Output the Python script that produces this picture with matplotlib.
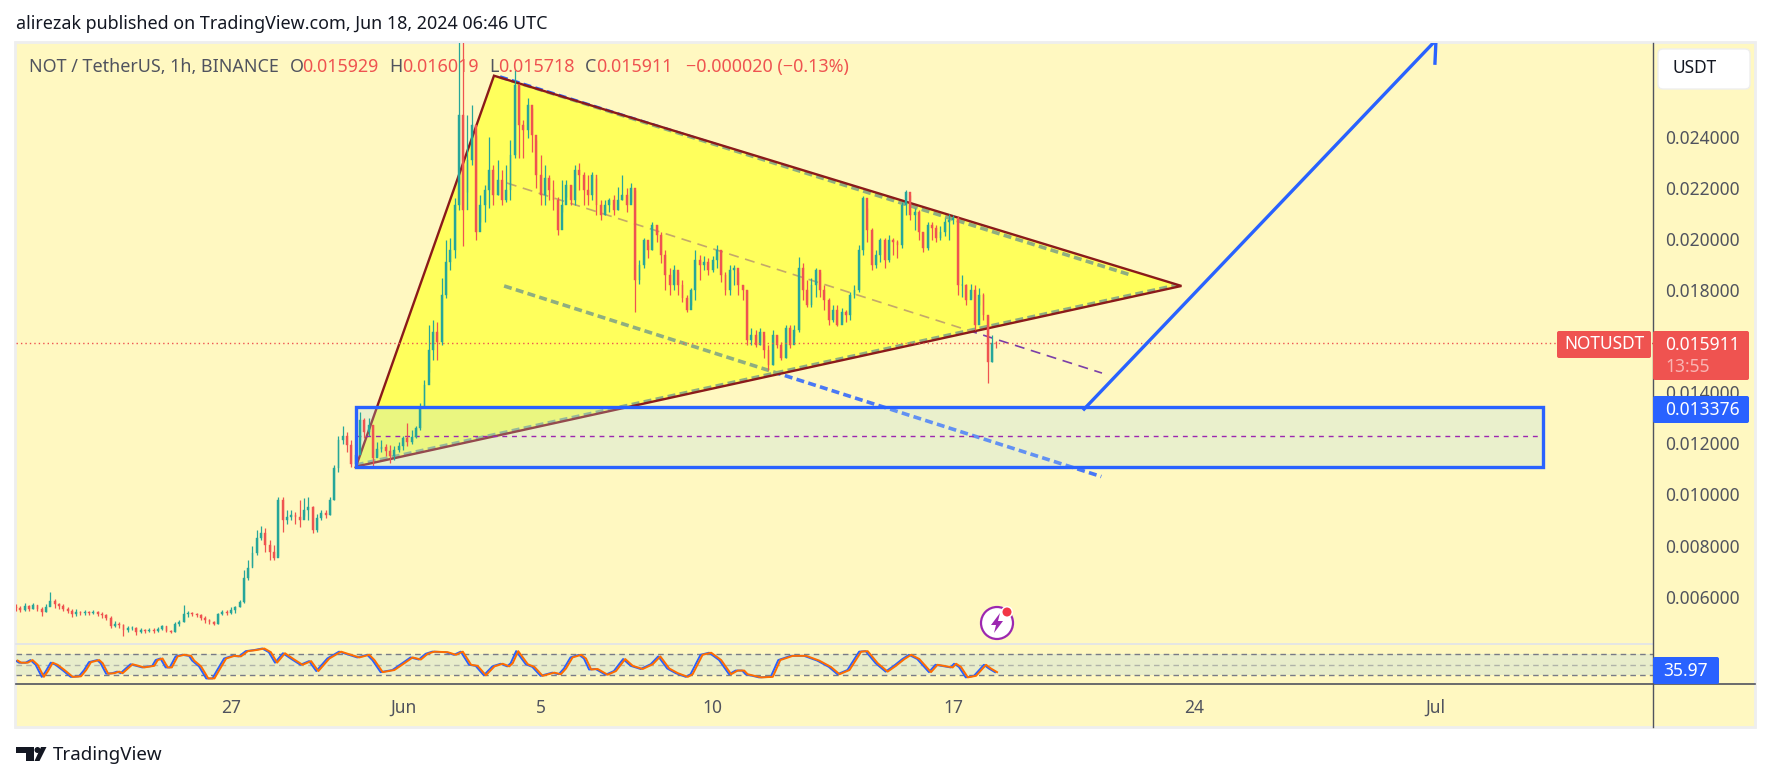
import numpy as np
import matplotlib
matplotlib.use("Agg")
import matplotlib.pyplot as plt
from matplotlib.patches import Rectangle, FancyBboxPatch, Circle, Polygon

plt.rcParams['font.family'] = ['Noto Sans', 'DejaVu Sans']

# 3h candles, prices in 1e-6 USDT, bars start May 20 18:00 (day 0 = May 27)
first_open = 5600
bar_close = [
    5550, 5480, 5630, 5520, 5670, 5520, 5400, 5590, 5830, 5710,
    5630, 5520, 5440, 5320, 5400, 5360, 5400, 5360, 5400, 5320,
    5280, 5160, 4850, 4930, 4890, 4690, 4770, 4770, 4610, 4690,
    4650, 4690, 4650, 4730, 4850, 4650, 4610, 4930, 5010, 5320,
    5360, 5320, 5280, 5160, 5080, 5010, 4930, 5320, 5400, 5360,
    5480, 5590, 5790, 6730, 7120, 7710, 8290, 8490, 8020, 7750,
    7510, 9780, 9000, 9120, 9190, 9120, 9000, 9390, 9510, 8610,
    9080, 9270, 9190, 9780, 11030, 12130, 12290, 11930, 11190, 11540,
    12910, 12440, 12720, 11420, 11780, 11860, 11700, 11500, 11740, 11890,
    12210, 12050, 12250, 12600, 13380, 14280, 15650, 16360, 15960, 17800,
    19100, 19570, 21330, 24850, 21130, 23090, 24460, 20270, 21330, 21910,
    22700, 21720, 22310, 21520, 21910, 23280, 26020, 24460, 24260, 25240,
    24070, 22500, 21720, 22380, 21910, 21520, 20350, 21330, 22110, 21520,
    22700, 22500, 21910, 21720, 22500, 21330, 20940, 21330, 21520, 21130,
    21520, 21720, 21330, 21990, 18390, 18980, 19960, 19570, 20540, 20150,
    19370, 18590, 18200, 18780, 18200, 17690, 17220, 18000, 19170, 18980,
    19100, 18780, 19170, 19570, 18590, 18000, 18780, 18860, 18200, 18000,
    16040, 16240, 15850, 16360, 15650, 15060, 16240, 15850, 15340, 16510,
    15850, 16430, 18860, 18000, 17410, 18200, 18780, 18000, 17610, 16830,
    17220, 16630, 17140, 17020, 17800, 18000, 19570, 21600, 20350, 18980,
    19370, 19960, 19170, 19960, 19880, 19760, 21330, 21840, 20940, 21050,
    20270, 19640, 20540, 20430, 20040, 20270, 20660, 20740, 20820, 18200,
    18200, 17610, 18000, 16630, 17800, 17020, 15180, 15929, 15911,
]
bar_high = [
    5710, 5630, 5750, 5670, 5750, 5670, 5590, 5710, 6180, 5910,
    5750, 5710, 5590, 5520, 5520, 5440, 5480, 5440, 5480, 5440,
    5400, 5320, 5240, 5050, 5010, 4930, 4850, 4850, 4810, 4770,
    4730, 4770, 4770, 4810, 4890, 4850, 4690, 5010, 5080, 5670,
    5440, 5400, 5360, 5320, 5240, 5120, 5050, 5360, 5480, 5480,
    5590, 5630, 5870, 7040, 7430, 7980, 8610, 8760, 8680, 8220,
    8020, 9900, 9900, 9390, 9390, 9310, 9780, 9860, 9900, 9550,
    9230, 9390, 9390, 9900, 11150, 12290, 12680, 12440, 12130, 12130,
    13220, 12990, 12990, 12720, 12050, 12130, 11970, 11930, 11890, 12050,
    12290, 12790, 12520, 12680, 13580, 14480, 16630, 16830, 16750, 18470,
    19960, 20040, 21600, 27900, 27900, 24850, 25240, 24070, 21720, 22110,
    23990, 22890, 23090, 22700, 22890, 23870, 26610, 26060, 24650, 25510,
    25120, 23870, 23280, 22890, 22500, 22310, 21640, 22310, 22310, 22110,
    22890, 22970, 22620, 22500, 22620, 22380, 21520, 21520, 21600, 21720,
    22030, 22500, 21990, 22190, 21910, 19170, 20040, 19760, 20660, 20540,
    20270, 19570, 18860, 18980, 18700, 18390, 17800, 18080, 19570, 19370,
    19330, 19250, 19330, 19760, 19570, 18700, 18980, 18980, 18700, 18200,
    18000, 16510, 16430, 16510, 16240, 15850, 16430, 16240, 15960, 16630,
    16630, 16630, 19290, 19060, 18390, 18470, 18860, 18700, 18200, 17690,
    17410, 17410, 17300, 17220, 17920, 18200, 19760, 21680, 21210, 20430,
    19570, 20040, 20040, 20150, 20040, 19960, 21440, 21910, 21720, 21210,
    21130, 20270, 20660, 20660, 20540, 20500, 20820, 20970, 20940, 20900,
    18590, 18230, 18230, 18200, 18080, 17880, 16980, 16240, 16019,
]
bar_low = [
    5440, 5400, 5440, 5440, 5520, 5440, 5240, 5400, 5630, 5550,
    5520, 5440, 5360, 5200, 5240, 5280, 5280, 5280, 5320, 5240,
    5160, 5080, 4770, 4810, 4770, 4460, 4610, 4690, 4500, 4580,
    4580, 4610, 4580, 4610, 4690, 4610, 4580, 4610, 4850, 5010,
    5200, 5240, 5200, 5080, 4970, 4930, 4890, 4930, 5280, 5280,
    5320, 5360, 5590, 5750, 6650, 7200, 7630, 8220, 7750, 7430,
    7430, 7590, 8530, 8840, 9000, 8840, 8720, 9150, 9000, 8490,
    8530, 9000, 9080, 9190, 9780, 10880, 11970, 11660, 11070, 11030,
    12130, 12210, 12290, 11110, 11500, 11660, 11500, 11230, 11350, 11660,
    11740, 11890, 11970, 12210, 12520, 13380, 14790, 15260, 15260, 15850,
    17690, 18780, 19250, 21130, 19720, 21840, 22890, 19960, 20660, 20660,
    21210, 21330, 21720, 21330, 21440, 21520, 23170, 23170, 23170, 23950,
    23400, 21990, 21330, 21330, 21520, 21130, 20150, 21050, 21640, 21330,
    21330, 21910, 21330, 21330, 21520, 20940, 20740, 20940, 21050, 20940,
    21130, 21520, 21050, 21440, 17140, 18230, 18860, 19250, 19570, 19880,
    19060, 18000, 17800, 18000, 17800, 17530, 17140, 17410, 17610, 18390,
    18780, 18590, 18700, 18860, 18310, 17800, 17800, 18200, 17800, 17610,
    15850, 15850, 15770, 15850, 15340, 14870, 15060, 15730, 15260, 15340,
    15730, 16200, 16360, 17610, 17330, 17330, 17730, 17730, 17220, 16630,
    16750, 16590, 16750, 16750, 16830, 17690, 17920, 19370, 19880, 18780,
    18860, 19100, 18860, 19100, 19370, 19250, 19640, 20940, 20740, 20350,
    19960, 19490, 19570, 19960, 19880, 19960, 20110, 19960, 20580, 17800,
    17730, 17410, 17690, 16430, 17410, 16830, 14360, 15180, 15718,
]

# oscillator pane (days from May 27, value)
osc_days = [
    -6.23, -6.13, -5.94, -5.80, -5.65, -5.47, -5.36, -5.21, -5.07, -4.87,
    -4.63, -4.39, -4.24, -4.10, -3.86, -3.76, -3.60, -3.42, -3.28, -3.18,
    -2.89, -2.55, -2.26, -2.16, -2.02, -1.87, -1.75, -1.58, -1.39, -1.19,
    -1.10, -0.90, -0.69, -0.51, -0.37, -0.17, 0.07, 0.26, 0.46, 0.70,
    0.94, 1.13, 1.31, 1.54, 1.81, 2.05, 2.30, 2.51, 2.83, 3.17,
    3.70, 3.99, 4.14, 4.38, 4.72, 5.01, 5.25, 5.49, 5.69, 5.88,
    6.27, 6.51, 6.71, 6.95, 7.14, 7.38, 7.63, 7.87, 8.06, 8.16,
    8.32, 8.60, 8.79, 9.03, 9.37, 9.56, 9.71, 9.90, 10.15, 10.29,
    10.44, 10.63, 10.92, 11.16, 11.43, 11.65, 11.94, 12.23, 12.45, 12.71,
    12.96, 13.25, 13.39, 13.68, 13.93, 14.22, 14.51, 14.70, 14.89, 14.99,
    15.38, 15.72, 15.94, 16.30, 16.69, 17.07, 17.41, 17.66, 17.95, 18.29,
    18.48, 18.77, 19.06, 19.30, 19.55, 19.74, 19.98, 20.32, 20.51, 20.95,
    21.05, 21.19, 21.39, 21.63, 21.92, 22.06, 22.24,
]
osc_values = [
    58, 54, 54, 59, 50, 27, 37, 54, 50, 40,
    27, 28, 40, 55, 59, 53, 33, 34, 37, 34,
    51, 45, 48, 59, 62, 45, 45, 66, 69, 67,
    58, 47, 24, 24, 40, 62, 67, 66, 76, 78,
    81, 74, 54, 72, 60, 50, 57, 38, 62, 75,
    64, 69, 59, 36, 40, 53, 64, 60, 71, 75,
    74, 69, 75, 50, 48, 30, 47, 52, 47, 53,
    76, 51, 46, 29, 35, 32, 43, 64, 69, 62,
    41, 42, 31, 38, 61, 48, 42, 51, 66, 43,
    34, 27, 32, 69, 73, 59, 32, 39, 39, 32,
    26, 27, 59, 67, 67, 58, 46, 32, 40, 75,
    76, 53, 37, 48, 61, 69, 61, 36, 50, 45,
    52, 46, 26, 29, 50, 43, 36,
]

# hand drawn objects on the chart (days, 1e-6 USDT)
triangle_days = [7.645, 3.634, 27.63]
triangle_price = [26390, 11090, 18160]
zone_days = [3.634, 38.14]
zone_price = [11060, 13440]
zone_mid = 12270
lower_days = [7.94, 25.3]
lower_price = [18160, 10700]
upper_days = [7.82, 26.13]
upper_price = [26340, 18600]
middle_days = [8.02, 25.32]
middle_price = [22190, 14750]
edge_days = [3.63, 27.62]
edge_price = [11150, 18230]
arrow_days = [24.80, 35.03, 35.0]
arrow_price = [13340, 27785, 26880]
last_price = 15911

price_ticks = [6000, 8000, 10000, 12000, 14000, 18000, 20000, 22000, 24000]
time_ticks = [0, 5, 9, 14, 21, 28, 35]
time_labels = ['27', 'Jun', '5', '10', '17', '24', 'Jul']

BG = '#fff8c1'
TEXT = '#50535e'
RED = '#ef5350'
UP = '#26a69a'
BLUE = '#2962ff'
W, H = 1771, 782
XLIM = (-6.25, 41.33)
YLIM = (4145, 27670)


def rect(l, t, r, b):
    return [l / W, 1 - b / H, (r - l) / W, (b - t) / H]


def fx(x):
    return x / W


def fy(y):
    return 1 - y / H


fig = plt.figure(figsize=(W / 100, H / 100), dpi=100, facecolor='white')

# panel background, sits behind all axes
fig.add_artist(Rectangle((fx(15), fy(727)), (1755 - 15) / W, (727 - 42) / H, transform=fig.transFigure,
                         fc=BG, ec='#eeeeee', lw=2, zorder=-1))

ax = fig.add_axes(rect(16, 43, 1652.7, 644))
ax_osc = fig.add_axes(rect(16, 644, 1652.7, 684))
ax_time = fig.add_axes(rect(16, 684, 1652.7, 727))

for a in (ax, ax_osc, ax_time):
    a.set_xlim(*XLIM)
    a.patch.set_alpha(0)
    for s in a.spines.values():
        s.set_visible(False)
    a.set_xticks([])
    a.set_yticks([])

ax.set_ylim(*YLIM)
ax.yaxis.tick_right()
ax.set_yticks(price_ticks)
ax.set_yticklabels(['%.6f' % (p / 1e6) for p in price_ticks], ha='left')
ax.tick_params(axis='y', length=0, pad=8.9, labelsize=12.5, labelcolor=TEXT)

# objects below the triangle fill show up only outside of it
ax.plot(lower_days, lower_price, color=BLUE, lw=2.6, ls=(0, (2.2, 1.2)), alpha=0.85, zorder=1)
ax.plot(upper_days, upper_price, color=BLUE, lw=2.6, ls=(0, (2.2, 1.2)), zorder=1)
ax.plot(middle_days, middle_price, color='#7b3fa8', lw=1.2, ls=(0, (6, 4)), zorder=1)

tri_xy = np.column_stack([triangle_days, triangle_price])
tri_fill = Polygon(tri_xy, closed=True, fc='#ffff5c', ec='none', zorder=2)
ax.add_patch(tri_fill)

# same lines again, tinted where the fill covers them
for xs, ys, c, lw, ls in [
    (lower_days, lower_price, '#8fae80', 2.6, (0, (2.2, 1.2))),
    (upper_days, upper_price, '#8fae80', 2.6, (0, (2.2, 1.2))),
    (edge_days, edge_price, '#8fae80', 2.6, (0, (2.2, 1.2))),
    (middle_days, middle_price, '#c4a86a', 1.2, (0, (6, 4))),
]:
    line, = ax.plot(xs, ys, color=c, lw=lw, ls=ls, zorder=3)
    line.set_clip_path(tri_fill)

ax.add_patch(Polygon(tri_xy, closed=True, fc='none', ec='#8b1a1a', lw=1.7, zorder=3.5))

# zone fill over the triangle, its border goes on top later
ax.add_patch(Rectangle((zone_days[0], zone_price[0]), zone_days[1] - zone_days[0], zone_price[1] - zone_price[0],
                       fc=(175 / 255, 220 / 255, 237 / 255), alpha=0.25, ec='none', zorder=4))
ax.plot(zone_days, [zone_mid, zone_mid], color='#9c27b0', lw=1.0, ls=(0, (3.5, 3.5)), zorder=4.5)

# candles
bar_days = XLIM[0] + np.arange(len(bar_close)) / 8
closes = np.array(bar_close, dtype=float)
opens = np.r_[first_open, closes[:-1]]
colors = [UP if c >= o else RED for o, c in zip(opens, closes)]
ax.vlines(bar_days, bar_low, bar_high, colors=colors, lw=0.9, zorder=5)
ax.bar(bar_days, closes - opens, bottom=opens, width=0.055, color=colors, edgecolor=colors, lw=0.3, zorder=5)

ax.plot(XLIM, [last_price, last_price], color=RED, lw=1, ls=(0, (1, 2.2)), zorder=5.5)

ax.add_patch(Rectangle((zone_days[0], zone_price[0]), zone_days[1] - zone_days[0], zone_price[1] - zone_price[0],
                       fc='none', ec=BLUE, lw=2.4, zorder=6))
ax.plot(arrow_days, arrow_price, color=BLUE, lw=2.4, zorder=6, solid_joinstyle='miter')

# oscillator pane
ax_osc.set_ylim(13.4, 89.6)
ax_osc.axhspan(30, 70, color='#e8edcb', lw=0, zorder=1)
ax_osc.axhline(70, color='#787b86', lw=1, ls=(0, (4, 3)), zorder=2)
ax_osc.axhline(30, color='#787b86', lw=1, ls=(0, (4, 3)), zorder=2)
ax_osc.axhline(50, color='#787b86', lw=1, ls=(0, (4, 3)), alpha=0.5, zorder=2)
osc_x = np.array(osc_days)
ax_osc.plot(osc_x - 0.03, osc_values, color=BLUE, lw=1.4, zorder=3)
ax_osc.plot(osc_x + 0.03, osc_values, color='#ff6d00', lw=1.4, zorder=4)

# time axis
ax_time.set_ylim(0, 1)
ax_time.set_xticks(time_ticks)
ax_time.set_xticklabels(time_labels, fontsize=12.5, color=TEXT)
ax_time.tick_params(axis='x', length=0, pad=-14)
for lab in ax_time.get_xticklabels():
    lab.set_verticalalignment('center')

# frame lines
for x0, y0, x1, y1, c, lw in [
    (16, 644, 1652.7, 644, '#e0e3eb', 1.2),
    (16, 684.3, 1755, 684.3, TEXT, 1.2),
    (1652.7, 43, 1652.7, 727, TEXT, 1.0),
]:
    fig.add_artist(plt.Line2D([fx(x0), fx(x1)], [fy(y0), fy(y1)], color=c, lw=lw, transform=fig.transFigure))


def box(x0, y0, x1, y1, color, rounding=2, ec='none', lw=0):
    fig.add_artist(FancyBboxPatch((fx(x0), fy(y1)), (x1 - x0) / W, (y1 - y0) / H, transform=fig.transFigure,
                                  boxstyle='round,pad=0,rounding_size=%f' % (rounding / W), mutation_aspect=W / H,
                                  fc=color, ec=ec, lw=lw, zorder=2))


def label(x, y, s, color=TEXT, size=12.5, ha='left', **kw):
    fig.text(fx(x), fy(y), s, color=color, fontsize=size, ha=ha, va='center', zorder=3, **kw)


label(16, 24, 'alirezak published on TradingView.com, Jun 18, 2024 06:46 UTC', color='#131722', size=12.9)

# legend row
label(29, 67, 'NOT / TetherUS, 1h, BINANCE', size=12.9)
for x, s, c in [
    (290, 'O', TEXT), (302, '0.015929', RED), (389, 'H', TEXT), (402, '0.016019', RED),
    (489, 'L', TEXT), (498, '0.015718', RED), (585, 'C', TEXT), (596, '0.015911', RED),
    (686, '\u22120.000020 (\u22120.13%)', RED),
]:
    label(x, 67, s, color=c, size=12.9)

# price scale widgets
box(1658, 49, 1750, 89, 'white', rounding=5, ec='#eeeeee', lw=1)
label(1672, 68, 'USDT', color='#131722')
box(1557, 331, 1651, 358, RED, rounding=2)
label(1604, 344, 'NOTUSDT', color='white', ha='center')
box(1653, 331, 1749, 380, RED, rounding=2)
label(1665, 345, '0.015911', color='white')
label(1665, 367, '13:55', color='#f9b5b3')
box(1653, 396, 1749, 423, BLUE, rounding=2)
label(1665, 410, '0.013376', color='white')
box(1653, 657, 1719, 684, BLUE, rounding=2)
label(1686, 671, '35.97', color='white', ha='center')

# alert badge
bx, by = 997, 623
badge = fig.add_axes(rect(bx - 22, by - 22, bx + 22, by + 22))
badge.set_xlim(-22, 22)
badge.set_ylim(22, -22)
badge.axis('off')
badge.add_patch(Circle((0, 0), 16, fc='white', ec='#9c27b0', lw=1.6))
badge.add_patch(Polygon([(3, -10), (-6, 2), (-1, 2), (-3, 10), (6, -2), (1, -2)], closed=True, fc='#9c27b0'))
badge.add_patch(Circle((10, -11), 6, fc='white', ec='none'))
badge.add_patch(Circle((10, -11), 4.5, fc='#f23645', ec='none'))

# TradingView mark
logo = fig.add_axes(rect(14, 745, 48, 763))
logo.set_xlim(14, 48)
logo.set_ylim(763, 745)
logo.axis('off')
logo.add_patch(Polygon([(16, 747), (34, 747), (34, 761), (26, 761), (26, 753), (16, 753)], closed=True, fc='#131722'))
logo.add_patch(Circle((37.5, 750), 3, fc='#131722'))
logo.add_patch(Polygon([(41, 747), (46.5, 747), (39.5, 761), (34.5, 761)], closed=True, fc='#131722'))
label(53, 755, 'TradingView', color='#131722', size=13.5)

fig.savefig('out.png', dpi=100)
